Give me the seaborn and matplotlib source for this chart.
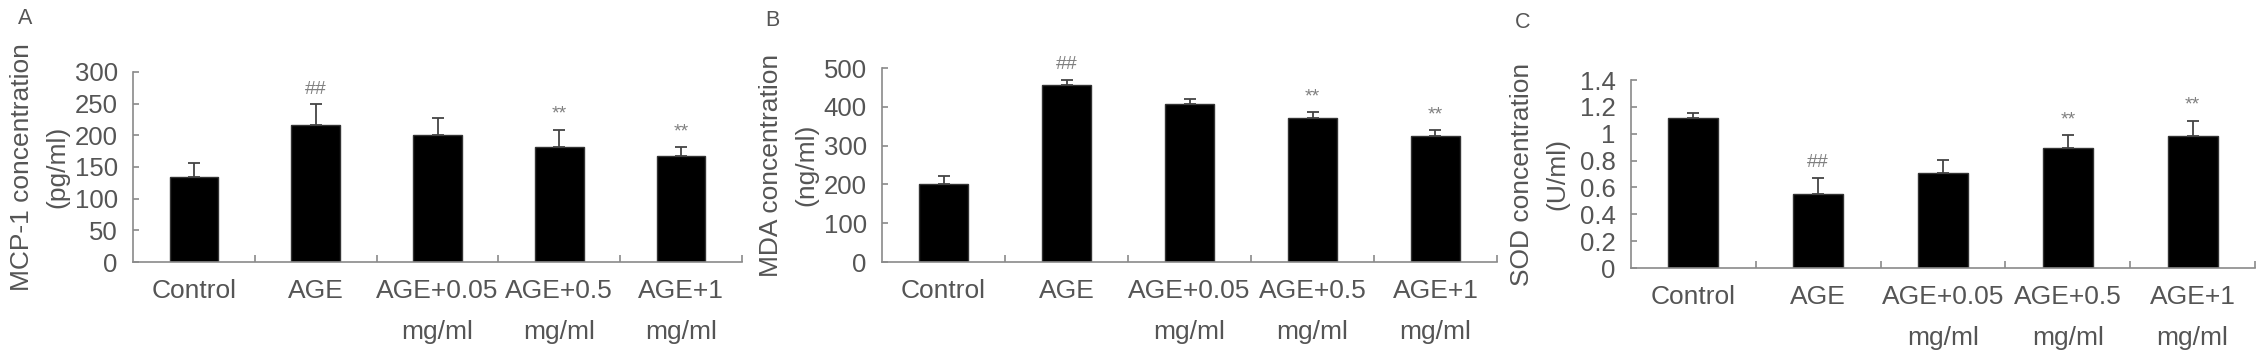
import numpy as np
import pandas as pd
import seaborn as sns
import matplotlib.pyplot as plt

# groups (two-line tick labels as in the figure)
groups = ['Control', 'AGE', 'AGE+0.05\nmg/ml', 'AGE+0.5\nmg/ml', 'AGE+1\nmg/ml']

# panel A - MCP-1 (pg/ml)
mcp1_mean = [134, 216, 200, 182, 167]
mcp1_err = [22, 33, 28, 27, 14]
mcp1_sig = ['', '##', '', '**', '**']

# panel B - MDA (ng/ml)
mda_mean = [201, 457, 408, 371, 325]
mda_err = [21, 13, 12, 16, 15]
mda_sig = ['', '##', '', '**', '**']

# panel C - SOD (U/ml)
sod_mean = [1.115, 0.553, 0.706, 0.897, 0.984]
sod_err = [0.037, 0.116, 0.099, 0.094, 0.114]
sod_sig = ['', '##', '', '**', '**']

sns.set_theme(style='white')
plt.rcParams['font.family'] = ['Liberation Sans', 'DejaVu Sans']

txt = '#555555'
axc = '#8a8a8a'
fs = 19

fig = plt.figure(figsize=(22.68, 3.54), dpi=100)

panels = [
    ('A', mcp1_mean, mcp1_err, mcp1_sig, 'MCP-1 concentration\n(pg/ml)', 300, 50,
     [133, 742, 72, 262], -0.105, None),
    ('B', mda_mean, mda_err, mda_sig, 'MDA concentration\n(ng/ml)', 500, 100,
     [882, 1497, 68, 262], -0.104, None),
    ('C', sod_mean, sod_err, sod_sig, 'SOD concentration\n(U/ml)', 1.4, 0.2,
     [1631, 2255, 80, 268], -0.098, 'sod'),
]
letter_pos = {'A': (25, 19), 'B': (772, 21), 'C': (1523, 23)}

W, H = 2268, 354
for letter, mean, err, sig, ylab, ytop, ystep, box, lab_x, kind in panels:
    x0, x1, ytp, ybt = box
    ax = fig.add_axes([x0 / W, 1 - ybt / H, (x1 - x0) / W, (ybt - ytp) / H])
    df = pd.DataFrame({'group': groups, 'value': mean})
    sns.barplot(data=df, x='group', y='value', color='black', saturation=1,
                width=0.4, edgecolor='#333333', linewidth=1, ax=ax)
    ax.errorbar(range(len(groups)), mean, yerr=[np.zeros(len(err)), err],
                fmt='none', ecolor='#444444', elinewidth=1.3, capsize=4, capthick=1.3)
    for i, s in enumerate(sig):
        if s:
            ax.annotate(s, (i, mean[i] + err[i]), xytext=(0, 11), textcoords='offset points',
                        ha='center', va='center', fontsize=14, color='#808080')

    ax.set_xlim(-0.5, len(groups) - 0.5)
    ax.set_ylim(0, ytop)
    yt = np.arange(0, ytop + ystep / 2, ystep)
    ax.set_yticks(yt)
    if kind == 'sod':
        ax.set_yticklabels(['0' if v == 0 else ('1' if abs(v - 1) < 1e-9 else f'{v:.1f}') for v in yt])
    else:
        ax.set_yticklabels([str(int(v)) for v in yt])
    ax.set_xticks(range(len(groups)))
    ax.set_xticklabels(groups, linespacing=1.9)
    ax.set_xticks(np.arange(0.5, len(groups), 1), minor=True)

    ax.tick_params(axis='x', which='major', length=0, pad=12, labelsize=fs, labelcolor=txt)
    ax.tick_params(axis='x', which='minor', direction='in', length=5, width=1.2, color=axc, bottom=True)
    ax.tick_params(axis='y', direction='in', length=4, width=1.2, color=axc, pad=11,
                   labelsize=18.5, labelcolor=txt, left=True)

    ax.set_xlabel('')
    ax.set_ylabel(ylab, fontsize=fs, color=txt, linespacing=1.6)
    ax.yaxis.set_label_coords(lab_x, 0.5)

    for sp in ['top', 'right']:
        ax.spines[sp].set_visible(False)
    for sp in ['left', 'bottom']:
        ax.spines[sp].set_color(axc)
        ax.spines[sp].set_linewidth(1.2)

    lx, ly = letter_pos[letter]
    fig.text(lx / W, 1 - ly / H, letter, ha='center', va='center', fontsize=15.5, color=txt)

fig.savefig('out.png', dpi=100, facecolor='white')
